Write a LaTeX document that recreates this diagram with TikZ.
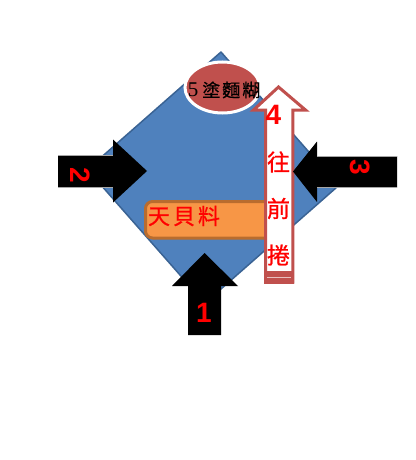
\documentclass[tikz,border=0pt]{standalone}
\usepackage{fontspec}
\newfontfamily\cjk[FakeBold=0.8]{Noto Sans CJK TC}
\newfontfamily\numfont{Liberation Sans}
\newfontfamily\digfont{Liberation Serif}
\usetikzlibrary{shapes.geometric}
\definecolor{dblue}{HTML}{4F81BD}
\definecolor{dblueedge}{HTML}{3A6394}
\definecolor{ored}{HTML}{C0504D}
\definecolor{orfill}{HTML}{F79646}
\definecolor{oredge}{HTML}{B96C2E}
\definecolor{txtred}{HTML}{FF0000}
\definecolor{lightpink}{HTML}{E8C0BF}
\begin{document}
\begin{tikzpicture}[x=1pt,y=-1pt,
  num/.style={font=\numfont\bfseries\fontsize{28}{30}\selectfont, text=txtred, inner sep=0pt},
  hanzi/.style={font=\cjk\fontsize{22}{24}\selectfont, text=txtred, inner sep=0pt},
  blackarrow/.style={fill=black},
  shaftline/.style={draw=gray!70, line width=0.6pt},
  diamondshape/.style={fill=dblue, draw=dblueedge, line width=1.5pt, line join=round},
  ovalshape/.style={ellipse, fill=ored, draw=white, line width=3pt, minimum width=75pt, minimum height=51pt, inner sep=0pt},
  boxshape/.style={fill=orfill, draw=oredge, line width=3pt, rounded corners=7pt},
  whitearrow/.style={fill=white, draw=ored, line width=3pt, line join=miter}
]
\useasboundingbox (0,0) rectangle (415,460);
% diamond
\draw[diamondshape] (221,52) -- (87.3,169.5) -- (204.8,303.2) -- (338.5,185.7) -- cycle;
% oval
\node[ovalshape] (oval) at (222.5,87.5) {};
\node[inner sep=0pt, font=\fontsize{18}{20}\selectfont] (ovaltext) at (224,90)
  {{\digfont\fontsize{21}{22}\selectfont 5}\hspace{4pt}{\cjk 塗\hspace{2pt}麵\hspace{2pt}糊}};
% orange box
\draw[boxshape] (145.5,201.5) rectangle (283,238);
\node[hanzi] (boxtext) at (184,216) {天\hspace{3pt}貝\hspace{3pt}料};
% white arrow 4
\draw[whitearrow] (265.5,282) -- (265.5,110) -- (253.5,110) -- (278.5,87) -- (305.5,110) -- (292.8,110) -- (292.8,282) -- cycle;
\fill[ored] (264,271) rectangle (294.3,283.5);
\draw[lightpink, line width=0.8pt] (267,277) -- (291,277);
\node[num] (n4) at (273.5,115) {4};
\node[hanzi, font=\cjk\fontsize{23}{24}\selectfont] (c1) at (278.5,162) {往};
\node[hanzi, font=\cjk\fontsize{23}{24}\selectfont] (c2) at (278.5,208.5) {前};
\node[hanzi, font=\cjk\fontsize{23}{24}\selectfont] (c3) at (278.5,255) {捲};
% arrow 1
\fill[blackarrow] (188,335) -- (188,286) -- (172,286) -- (204.5,253) -- (238,286) -- (221,286) -- (221,335) -- cycle;
\node[num] (n1) at (204,312.5) {1};
% arrow 2
\fill[blackarrow] (58,155) -- (113,155) -- (113,139.5) -- (147,171) -- (113,202.5) -- (113,187) -- (58,187) -- cycle;
\draw[shaftline] (58,155) -- (113,155);
\draw[shaftline] (58,187) -- (113,187);
\node[num, rotate=-90] (n2) at (80,175) {2};
% arrow 3
\fill[blackarrow] (397,156) -- (317,156) -- (317,141.5) -- (293,171.5) -- (317,202) -- (317,187.5) -- (397,187.5) -- cycle;
\draw[shaftline] (317,156) -- (397,156);
\draw[shaftline] (317,187.5) -- (397,187.5);
\node[num, rotate=-90] (n3) at (360,167) {3};
\end{tikzpicture}
\end{document}
